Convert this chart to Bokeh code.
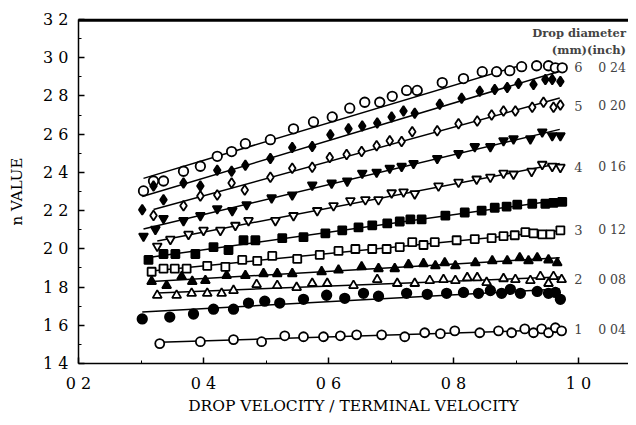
import numpy as np
from bokeh.plotting import figure
from bokeh.models import Range1d, FixedTicker, Label, LinearAxis
from bokeh.embed import file_html
from bokeh.resources import INLINE

# ---------------- data ----------------
x_ticks = [0.2, 0.4, 0.6, 0.8, 1.0]
x_tick_labels = ["0 2", "0 4", "0 6", "0 8", "1 0"]
x_minor = [0.3, 0.5, 0.7, 0.9]
y_ticks = [1.4, 1.6, 1.8, 2.0, 2.2, 2.4, 2.6, 2.8, 3.0, 3.2]
y_tick_labels = ["1 4", "1 6", "1 8", "2 0", "2 2", "2 4", "2 6", "2 8", "3 0", "3 2"]
y_minor = [1.5, 1.7, 1.9, 2.1, 2.3, 2.5, 2.7, 2.9, 3.1]

# series 1: open circles (6 mm)
s1_x = [0.304, 0.320, 0.336, 0.368, 0.395, 0.422, 0.445, 0.467, 0.507, 0.544, 0.576, 0.606, 0.634, 0.658,
        0.682, 0.702, 0.725, 0.742, 0.782, 0.816, 0.846, 0.869, 0.890, 0.909, 0.933, 0.952, 0.963, 0.974]
s1_y = [2.303, 2.355, 2.355, 2.406, 2.432, 2.484, 2.509, 2.550, 2.571, 2.628, 2.664, 2.690, 2.736, 2.767,
        2.767, 2.798, 2.829, 2.829, 2.870, 2.891, 2.927, 2.927, 2.932, 2.953, 2.958, 2.958, 2.947, 2.947]
# series 2: filled diamonds
s2_x = [0.302, 0.320, 0.336, 0.368, 0.395, 0.422, 0.445, 0.467, 0.507, 0.542, 0.574, 0.603, 0.632, 0.654,
        0.678, 0.701, 0.720, 0.738, 0.778, 0.813, 0.842, 0.866, 0.886, 0.904, 0.928, 0.947, 0.958, 0.971]
s2_y = [2.205, 2.329, 2.257, 2.344, 2.329, 2.411, 2.406, 2.437, 2.473, 2.530, 2.535, 2.597, 2.628, 2.643,
        2.659, 2.690, 2.721, 2.710, 2.757, 2.788, 2.824, 2.834, 2.844, 2.865, 2.860, 2.886, 2.886, 2.875]
# series 3: open diamonds (5 mm)
s3_x = [0.320, 0.368, 0.395, 0.422, 0.445, 0.466, 0.507, 0.542, 0.574, 0.602, 0.629, 0.653, 0.677,
        0.698, 0.717, 0.734, 0.774, 0.808, 0.838, 0.861, 0.880, 0.899, 0.926, 0.944, 0.960, 0.971]
s3_y = [2.174, 2.226, 2.277, 2.282, 2.344, 2.308, 2.375, 2.422, 2.427, 2.478, 2.494, 2.509, 2.540,
        2.566, 2.561, 2.612, 2.618, 2.654, 2.669, 2.700, 2.721, 2.721, 2.741, 2.767, 2.741, 2.752]
# series 4: filled down triangles
s4_x = [0.304, 0.323, 0.336, 0.368, 0.395, 0.422, 0.446, 0.469, 0.509, 0.542, 0.574, 0.605, 0.630, 0.654,
        0.677, 0.698, 0.717, 0.736, 0.774, 0.808, 0.834, 0.859, 0.880, 0.896, 0.923, 0.942, 0.958, 0.971]
s4_y = [2.066, 2.102, 2.159, 2.148, 2.174, 2.210, 2.200, 2.231, 2.267, 2.282, 2.334, 2.344, 2.355, 2.396,
        2.401, 2.422, 2.432, 2.447, 2.473, 2.499, 2.535, 2.535, 2.566, 2.576, 2.576, 2.612, 2.592, 2.592]
# series 5: open down triangles (4 mm)
s5_x = [0.326, 0.347, 0.376, 0.400, 0.427, 0.451, 0.472, 0.515, 0.544, 0.582, 0.608, 0.635, 0.659, 0.680,
        0.701, 0.720, 0.738, 0.776, 0.808, 0.837, 0.859, 0.880, 0.896, 0.925, 0.942, 0.958, 0.971]
s5_y = [2.014, 2.050, 2.076, 2.097, 2.097, 2.123, 2.148, 2.148, 2.174, 2.200, 2.226, 2.252, 2.257, 2.257,
        2.293, 2.298, 2.288, 2.329, 2.349, 2.365, 2.375, 2.396, 2.391, 2.406, 2.442, 2.432, 2.427]
# series 6: filled squares
s6_x = [0.312, 0.336, 0.355, 0.387, 0.416, 0.440, 0.464, 0.483, 0.526, 0.560, 0.595, 0.622, 0.648, 0.670,
        0.694, 0.714, 0.731, 0.749, 0.787, 0.818, 0.845, 0.866, 0.885, 0.902, 0.926, 0.947, 0.960, 0.974]
s6_y = [1.942, 1.973, 1.973, 1.973, 2.009, 1.994, 2.045, 2.045, 2.056, 2.061, 2.081, 2.097, 2.112, 2.123,
        2.133, 2.143, 2.154, 2.154, 2.174, 2.190, 2.200, 2.215, 2.221, 2.231, 2.236, 2.236, 2.241, 2.246]
# series 7: open squares (3 mm)
s7_x = [0.317, 0.336, 0.354, 0.373, 0.406, 0.435, 0.462, 0.486, 0.510, 0.550, 0.586, 0.616, 0.643, 0.670,
        0.693, 0.714, 0.734, 0.752, 0.770, 0.805, 0.834, 0.861, 0.880, 0.898, 0.915, 0.928, 0.942, 0.955, 0.971]
s7_y = [1.880, 1.896, 1.896, 1.896, 1.911, 1.906, 1.942, 1.937, 1.963, 1.947, 1.968, 1.989, 1.999, 1.999,
        1.999, 2.009, 2.035, 2.020, 2.035, 2.045, 2.051, 2.056, 2.066, 2.071, 2.087, 2.081, 2.076, 2.076, 2.097]
# series 8: filled triangles
s8_x = [0.317, 0.341, 0.365, 0.382, 0.403, 0.437, 0.467, 0.496, 0.518, 0.542, 0.589, 0.616, 0.653, 0.680,
        0.706, 0.728, 0.752, 0.771, 0.786, 0.803, 0.835, 0.862, 0.886, 0.906, 0.920, 0.934, 0.952, 0.966]
s8_y = [1.829, 1.808, 1.855, 1.829, 1.834, 1.860, 1.860, 1.870, 1.870, 1.870, 1.880, 1.889, 1.906, 1.896,
        1.896, 1.917, 1.922, 1.911, 1.927, 1.911, 1.927, 1.937, 1.937, 1.953, 1.937, 1.953, 1.942, 1.927]
# series 9: open triangles (2 mm)
s9_x = [0.326, 0.357, 0.381, 0.406, 0.429, 0.448, 0.485, 0.518, 0.549, 0.574, 0.598, 0.640, 0.678, 0.710,
        0.738, 0.762, 0.784, 0.803, 0.822, 0.838, 0.853, 0.880, 0.899, 0.923, 0.939, 0.952, 0.960, 0.973]
s9_y = [1.757, 1.757, 1.767, 1.767, 1.767, 1.782, 1.813, 1.808, 1.798, 1.819, 1.819, 1.808, 1.839, 1.819,
        1.819, 1.834, 1.839, 1.834, 1.849, 1.849, 1.824, 1.844, 1.839, 1.834, 1.855, 1.819, 1.855, 1.839]
# series 10: filled circles
s10_x = [0.302, 0.346, 0.384, 0.416, 0.448, 0.472, 0.498, 0.522, 0.560, 0.597, 0.626, 0.656, 0.680,
         0.725, 0.758, 0.789, 0.816, 0.840, 0.859, 0.877, 0.891, 0.907, 0.934, 0.952, 0.963, 0.971]
s10_y = [1.633, 1.643, 1.659, 1.684, 1.684, 1.716, 1.726, 1.716, 1.736, 1.757, 1.741, 1.767, 1.752,
         1.767, 1.762, 1.767, 1.772, 1.767, 1.782, 1.767, 1.788, 1.767, 1.777, 1.767, 1.772, 1.736]
# series 11: open circles (1 mm)
s11_x = [0.330, 0.395, 0.448, 0.493, 0.530, 0.560, 0.592, 0.619, 0.645, 0.685, 0.722, 0.754, 0.779,
         0.802, 0.842, 0.872, 0.893, 0.914, 0.928, 0.941, 0.952, 0.963, 0.973]
s11_y = [1.504, 1.514, 1.525, 1.514, 1.545, 1.540, 1.540, 1.545, 1.550, 1.550, 1.540, 1.561, 1.556,
         1.571, 1.561, 1.571, 1.561, 1.581, 1.561, 1.581, 1.561, 1.587, 1.571]

series_x = [s1_x, s2_x, s3_x, s4_x, s5_x, s6_x, s7_x, s8_x, s9_x, s10_x, s11_x]
series_y = [s1_y, s2_y, s3_y, s4_y, s5_y, s6_y, s7_y, s8_y, s9_y, s10_y, s11_y]
fit_x_max = [0.90, 0.97, 0.97, 0.97, 0.97, 0.97, 0.97, 0.97, 0.97, 0.97, 0.97]

diam_mm = ["6", "5", "4", "3", "2", "1"]
diam_inch = ["0 24", "0 20", "0 16", "0 12", "0 08", "0 04"]
diam_label_y = [2.95, 2.75, 2.43, 2.10, 1.84, 1.58]

# ---------------- styles ----------------
markers = ["circle", "diamond", "diamond", "inverted_triangle", "inverted_triangle",
           "square", "square", "triangle", "triangle", "circle", "circle"]
filled = [False, True, False, True, False, True, False, True, False, True, False]
sizes = [9.5, 10, 10, 9, 9, 8, 8, 9, 9, 9.5, 9]
FONT = "DejaVu Serif"
X_START, X_END = 0.2, 1.08
Y_START, Y_END = 1.4, 3.2

p = figure(width=628, height=417, output_backend="svg", toolbar_location=None,
           x_range=Range1d(X_START, X_END), y_range=Range1d(Y_START, Y_END),
           min_border_left=78, min_border_top=19, min_border_right=0, min_border_bottom=52,
           x_axis_label="DROP VELOCITY / TERMINAL VELOCITY", y_axis_label="n VALUE")
p.outline_line_color = None
p.xgrid.visible = False
p.ygrid.visible = False
p.background_fill_color = "white"

for ax, ticks, labels, minor in [(p.xaxis[0], x_ticks, x_tick_labels, x_minor),
                                 (p.yaxis[0], y_ticks, y_tick_labels, y_minor)]:
    ax.ticker = FixedTicker(ticks=ticks, minor_ticks=minor)
    ax.major_label_overrides = {t: l for t, l in zip(ticks, labels)}
    ax.major_tick_in = 6
    ax.major_tick_out = 0
    ax.minor_tick_in = 3
    ax.minor_tick_out = 0
    ax.axis_line_width = 1.5
    ax.major_tick_line_width = 1.5
    ax.axis_line_color = "black"
    ax.major_label_text_font = FONT
    ax.major_label_text_font_size = "16px"
    ax.major_label_text_color = "black"
    ax.axis_label_text_font = FONT
    ax.axis_label_text_font_style = "normal"
    ax.axis_label_text_color = "black"

p.xaxis[0].axis_label_text_font_size = "15.5px"
p.yaxis[0].axis_label_text_font_size = "15px"
p.xaxis[0].major_label_standoff = 10
p.xaxis[0].axis_label_standoff = 1
p.yaxis[0].major_label_standoff = 10
p.yaxis[0].axis_label_standoff = 14

# top frame line (axis rule plus a thin line just inside the frame)
top = LinearAxis(major_tick_in=0, major_tick_out=0, minor_tick_in=0, minor_tick_out=0,
                 major_label_text_font_size="1px", major_label_text_alpha=0,
                 major_label_standoff=0, axis_line_width=1.5, axis_line_color="black")
p.add_layout(top, "above")
inset = (Y_END - Y_START) / 300.0
p.line([X_START, X_END], [Y_END - inset, Y_END - inset], line_color="black", line_width=2)

for i, (xs, ys) in enumerate(zip(series_x, series_y)):
    xs = np.array(xs)
    ys = np.array(ys)
    k, b = np.polyfit(xs, ys, 1)
    lx = np.array([xs.min(), fit_x_max[i]])
    p.line(lx, k * lx + b, line_color="black", line_width=1.5)
    p.scatter(xs, ys, marker=markers[i], size=sizes[i], line_color="black", line_width=1.8,
              fill_color="black" if filled[i] else "white")

p.add_layout(Label(x=X_END - 0.004, y=3.128, text="Drop diameter", text_font=FONT, text_font_size="11.5px",
                   text_font_style="bold", text_baseline="middle", text_align="right"))
p.add_layout(Label(x=X_END - 0.004, y=3.04, text="(mm)(inch)", text_font=FONT, text_font_size="11.5px",
                   text_font_style="bold", text_baseline="middle", text_align="right"))
for mm, inch, ly in zip(diam_mm, diam_inch, diam_label_y):
    p.add_layout(Label(x=1.0, y=ly, text=mm, text_font=FONT, text_font_size="13px",
                       text_baseline="middle", text_align="center"))
    p.add_layout(Label(x=X_END - 0.004, y=ly, text=inch, text_font=FONT, text_font_size="12.5px",
                       text_baseline="middle", text_align="right"))

open("out.html", "w").write(file_html(p, INLINE))
